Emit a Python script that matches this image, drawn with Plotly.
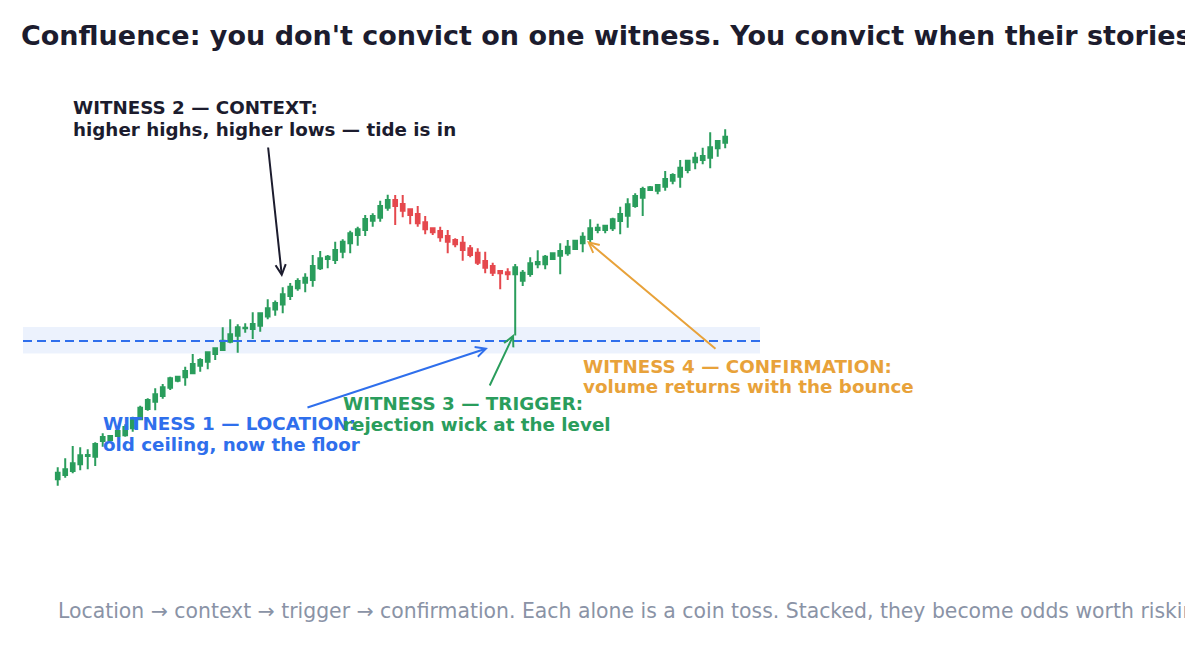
import plotly.graph_objects as go

# ---- data (price units; level = 100) ----
idx = list(range(90))
open_ = [86.17, 86.6, 87.0, 87.67, 88.5, 88.43, 90.0, 90.1, 90.5, 90.57,
         91.27, 92.17, 93.2, 93.93, 94.5, 95.33, 96.03, 96.37, 96.77, 97.53,
         97.93, 98.7, 99.1, 99.93, 100.53, 101.27, 101.2, 101.53, 102.45, 103.15,
         103.65, 104.5, 105.27, 105.83, 106.1, 107.27, 108.2, 108.1, 108.93, 109.77,
         110.6, 111.1, 112.03, 112.33, 113.33, 114.1, 113.7, 113.17, 112.7, 111.87,
         111.27, 111.0, 110.5, 110.1, 109.83, 109.27, 108.83, 108.0, 107.5, 107.0,
         106.87, 106.67, 106.03, 106.7, 107.67, 107.67, 108.2, 108.53, 108.77, 109.2,
         109.77, 110.2, 111.1, 111.1, 111.27, 112.0, 112.53, 113.5, 114.33, 115.1,
         115.03, 115.43, 116.03, 116.43, 117.1, 117.87, 118.1, 118.33, 119.27, 119.83]
high = [87.37, 88.27, 89.5, 89.37, 89.17, 89.87, 90.77, 90.6, 91.4, 91.67,
        92.43, 93.53, 94.27, 95.27, 95.7, 96.43, 96.5, 97.43, 98.7, 98.27,
        98.93, 99.27, 101.37, 102.17, 101.67, 101.77, 102.87, 102.83, 104.17, 104.05,
        105.37, 105.8, 106.27, 106.77, 108.6, 109.0, 108.6, 109.93, 110.17, 111.03,
        111.43, 112.6, 112.77, 114.03, 114.63, 114.6, 114.6, 113.27, 113.5, 112.5,
        111.27, 111.43, 111.1, 110.27, 110.5, 109.6, 109.27, 108.93, 107.83, 107.0,
        107.27, 107.7, 107.1, 108.37, 109.07, 108.6, 108.77, 109.77, 110.1, 110.1,
        110.87, 112.17, 111.73, 111.6, 112.33, 113.43, 114.27, 114.77, 115.43, 115.5,
        115.6, 117.0, 116.77, 118.1, 118.1, 118.87, 119.33, 120.87, 120.1, 121.17]
low = [85.53, 86.33, 86.77, 87.07, 87.17, 87.5, 89.43, 90.0, 90.4, 90.43,
       90.93, 92.07, 93.03, 93.07, 94.23, 95.1, 95.87, 95.53, 96.7, 96.93,
       97.17, 98.1, 99.03, 99.77, 98.83, 100.83, 100.2, 100.93, 102.17, 102.53,
       102.77, 104.1, 105.03, 104.87, 105.43, 107.1, 107.27, 107.7, 108.27, 108.77,
       109.53, 110.5, 111.43, 111.93, 113.03, 111.6, 112.37, 111.67, 111.43, 110.67,
       110.6, 109.93, 108.77, 109.37, 108.03, 108.37, 107.6, 106.77, 106.5, 105.17,
       106.1, 100.55, 105.5, 106.43, 107.27, 107.17, 108.1, 106.67, 108.53, 109.1,
       108.87, 109.87, 110.77, 110.77, 111.0, 110.67, 111.33, 113.33, 112.5, 115.0,
       114.67, 115.03, 115.67, 115.33, 116.77, 117.17, 117.67, 117.27, 118.43, 119.27]
close = [86.83, 87.17, 87.77, 88.57, 88.6, 89.7, 90.4, 90.5, 91.0, 91.4,
         92.27, 93.33, 94.1, 94.67, 95.37, 96.27, 96.43, 97.0, 97.7, 98.1,
         98.87, 99.27, 100.03, 100.67, 101.37, 101.33, 101.7, 102.77, 103.27, 103.8,
         104.67, 105.43, 106.0, 106.33, 107.5, 108.27, 108.43, 109.1, 109.93, 110.77,
         111.17, 112.2, 112.5, 113.5, 114.1, 113.5, 113.03, 112.6, 111.77, 111.17,
         110.87, 110.37, 109.93, 109.67, 109.1, 108.6, 107.83, 107.33, 106.83, 106.77,
         106.67, 107.37, 106.83, 107.77, 107.9, 108.43, 108.77, 109.0, 109.43, 110.03,
         110.43, 111.27, 111.33, 111.53, 112.17, 112.7, 113.67, 114.5, 115.2, 115.37,
         115.6, 116.2, 116.6, 117.33, 118.03, 118.33, 118.5, 119.37, 120.0, 120.43]

level = 100.0
zone_low, zone_high = 98.75, 101.4

title_text = "Confluence: you don't convict on one witness. You convict when their stories line up."
subtitle_text = ("Location \u2192 context \u2192 trigger \u2192 confirmation. Each alone is a coin toss. "
                 "Stacked, they become odds worth risking.")

witness_heads = ["WITNESS 2 \u2014 CONTEXT:", "WITNESS 1 \u2014 LOCATION:",
                 "WITNESS 3 \u2014 TRIGGER:", "WITNESS 4 \u2014 CONFIRMATION:"]
witness_notes = ["higher highs, higher lows \u2014 tide is in", "old ceiling, now the floor",
                 "rejection wick at the level", "volume returns with the bounce"]

GREEN = "#2a9d5c"
RED = "#e5484d"
BLUE = "#2f6fec"
ORANGE = "#e8a23a"
DARK = "#1c1c2e"
GRAY = "#8a93a6"
FONT = "DejaVu Sans"

fig = go.Figure()
fig.add_trace(go.Candlestick(
    x=idx, open=open_, high=high, low=low, close=close,
    increasing=dict(line=dict(color=GREEN, width=2), fillcolor=GREEN),
    decreasing=dict(line=dict(color=RED, width=2), fillcolor=RED),
    showlegend=False, hoverinfo="skip",
))

# support zone + level
fig.add_shape(type="rect", xref="paper", yref="y", x0=0, x1=1, y0=zone_low, y1=zone_high,
              fillcolor="rgba(47,111,236,0.09)", line=dict(width=0), layer="below")
fig.add_shape(type="line", xref="paper", yref="y", x0=0, x1=1, y0=level, y1=level,
              line=dict(color=BLUE, width=2, dash="9px,5px"))

# plot area geometry (pixels)
L, R, T, B = 23, 760, 80, 560
def px(xp):
    return (xp - L) / (R - L)
def py(yp):
    return (B - yp) / (B - T)

# arrows
arrows = [
    (29.9, 106.4, -14, -131, DARK),
    (57.37, 99.3, -182, 60, BLUE),
    (60.84, 100.7, -25, 53, GREEN),
    (70.57, 110.0, 130, 109, ORANGE),
]
for x, y, ax, ay, c in arrows:
    fig.add_annotation(x=x, y=y, xref="x", yref="y", ax=ax, ay=ay, text="",
                       showarrow=True, arrowhead=5, arrowsize=1.0, arrowwidth=2,
                       arrowcolor=c, standoff=0)

# label placement: (left px, first-line centre px, second-line centre px, colour)
label_pos = [(71, 107, 129, DARK), (101, 423, 444, BLUE),
             (341, 403, 424, GREEN), (581, 366, 386, ORANGE)]
for head, note, (xp, y1, y2, c) in zip(witness_heads, witness_notes, label_pos):
    for t, yp in ((head, y1), (note, y2)):
        fig.add_annotation(x=px(xp), y=py(yp), xref="paper", yref="paper",
                           text="<b>" + t + "</b>",
                           showarrow=False, xanchor="left", yanchor="middle", align="left",
                           font=dict(family=FONT, size=18.3, color=c))

fig.add_annotation(x=px(56), y=py(611), xref="paper", yref="paper", text=subtitle_text,
                   showarrow=False, xanchor="left", yanchor="middle", align="left",
                   font=dict(family=FONT, size=20.4, color=GRAY))

fig.update_layout(
    width=1185, height=660,
    margin=dict(l=L, r=1185 - R, t=T, b=660 - B),
    paper_bgcolor="white", plot_bgcolor="white",
    title=dict(text="<b>" + title_text + "</b>", x=21 / 1185, xanchor="left",
               y=1 - 36 / 660, yanchor="middle",
               font=dict(family=FONT, size=27, color=DARK)),
    xaxis=dict(range=[-4.63, 93.64], visible=False, rangeslider=dict(visible=False),
               fixedrange=True),
    yaxis=dict(range=[134.1 - 56.0, 134.1 - 8.0], visible=False, fixedrange=True),
    hovermode=False,
)

fig.write_html("out.html")
